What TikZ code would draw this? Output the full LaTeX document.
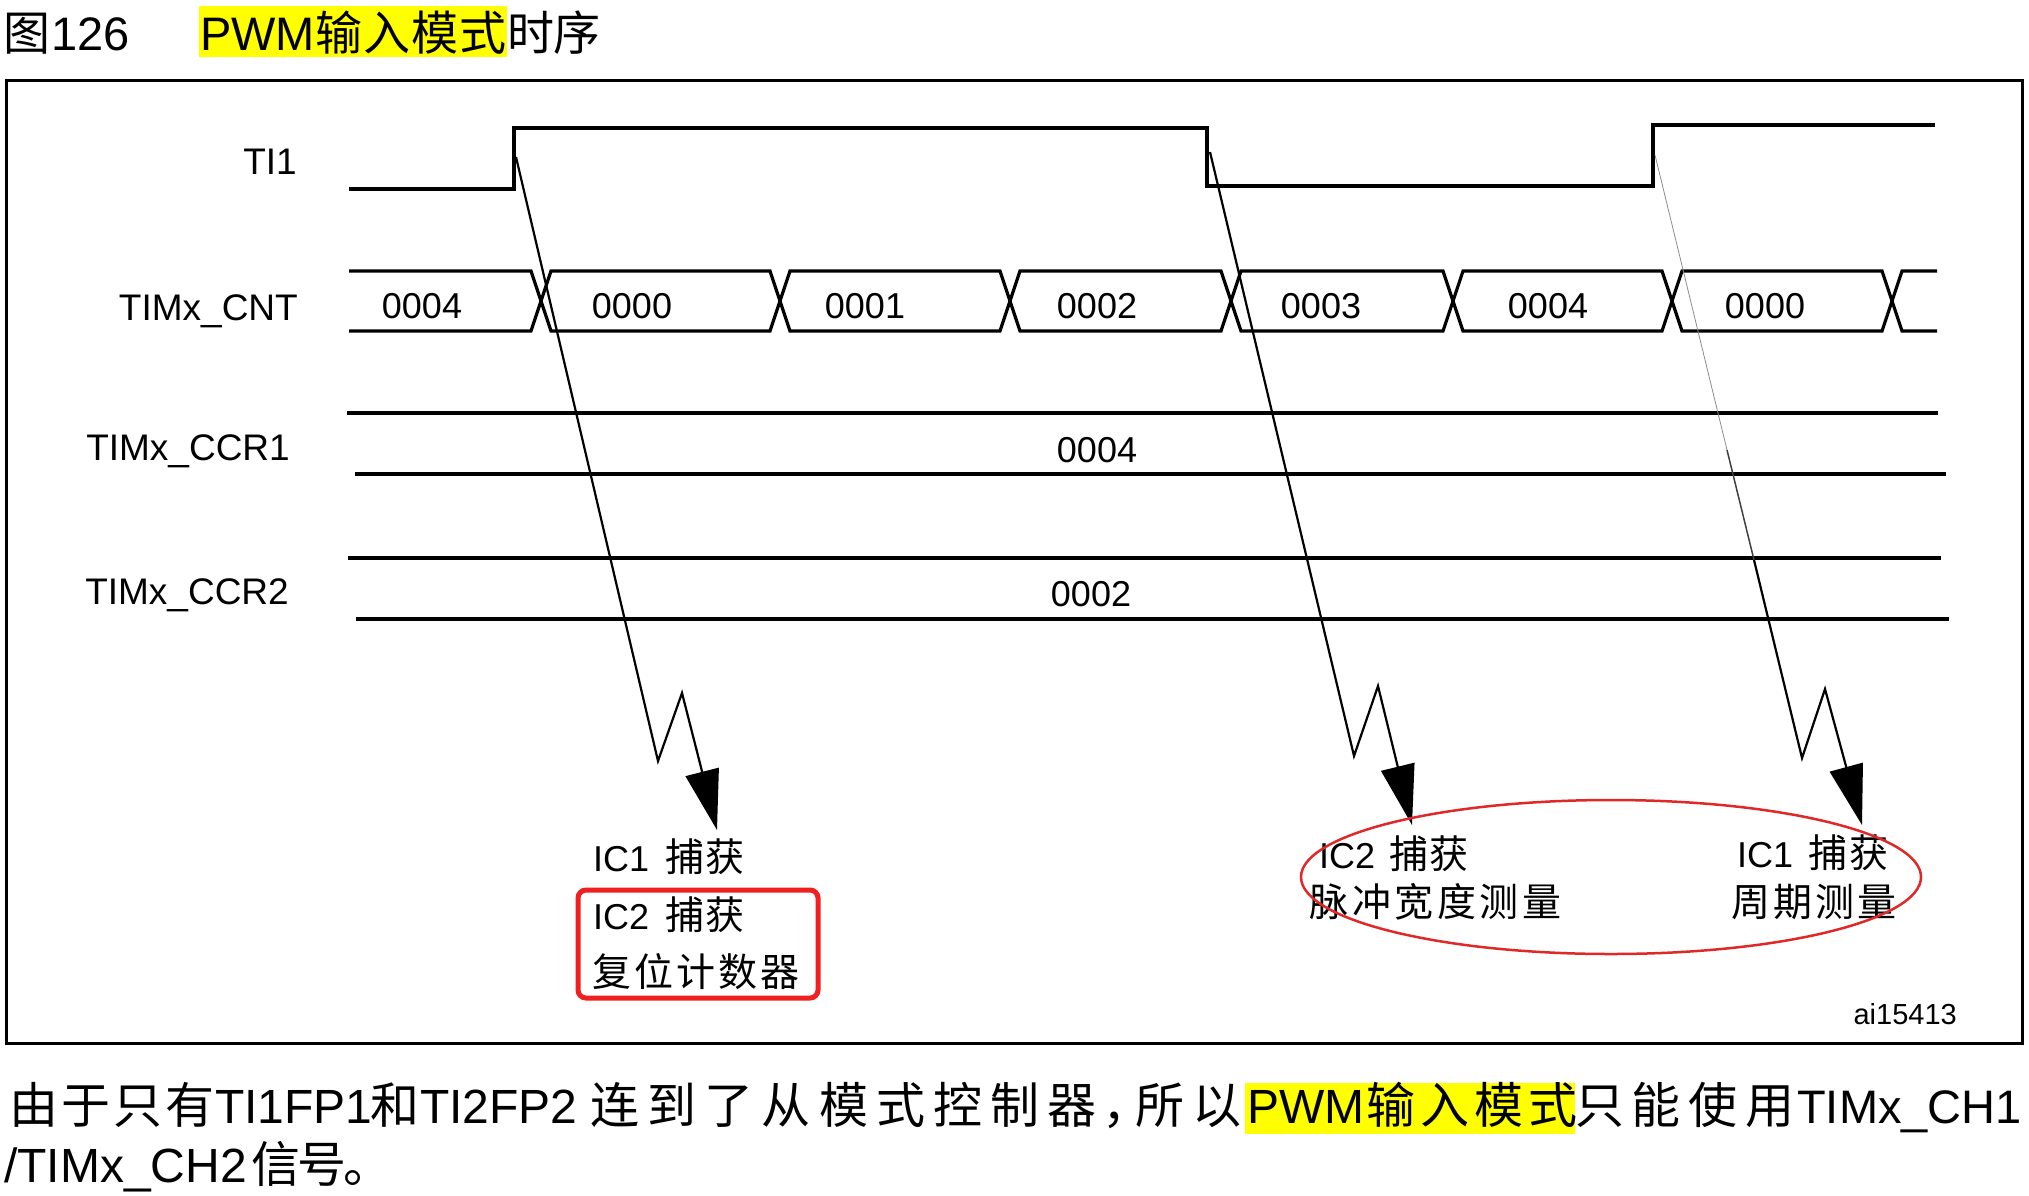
\documentclass[tikz,border=0pt]{standalone}
\usepackage{fontspec}
\setmainfont{Liberation Sans}
\newfontfamily\cjk{Noto Sans CJK SC}
\usetikzlibrary{arrows.meta}
\definecolor{hl}{RGB}{255,255,0}
\definecolor{boxred}{RGB}{240,32,32}
\definecolor{ellred}{RGB}{225,40,40}
\newlength\cjkpitch
\makeatletter
\def\cjz#1#2#3{{\fontsize{#1}{#1}\cjk\setlength\cjkpitch{#2}\cjz@loop#3\relax}}
\def\cjz@loop#1{\ifx\relax#1\else\makebox[\cjkpitch][c]{#1}\expandafter\cjz@loop\fi}
\makeatother
\tikzset{
  wave/.style={line width=3.2pt, line join=miter},
  lbl/.style={inner sep=0pt, anchor=base east, font=\fontsize{37pt}{40pt}\selectfont},
  val/.style={inner sep=0pt, anchor=base, font=\fontsize{36pt}{40pt}\selectfont},
  txt/.style={inner sep=0pt, anchor=base west, font=\fontsize{36pt}{40pt}\selectfont},
  body/.style={inner sep=0pt, anchor=base west, font=\fontsize{48pt}{52pt}\selectfont},
  ttl/.style={inner sep=0pt, anchor=base west, font=\fontsize{47pt}{52pt}\selectfont},
  capline/.style={line width=2.2pt, -{Triangle[length=60pt,width=34pt]}},
}
\begin{document}
\begin{tikzpicture}[x=1pt,y=-1pt]
\useasboundingbox (0,0) rectangle (2029,1195);
% ---------- title ----------
\fill[hl] (199,6) rectangle (507,57);
\node[ttl] (t1) at (4,50) {\cjz{47pt}{46pt}{图}};
\node[ttl] (t2) at (51,50) {126};
\node[ttl] (t3) at (200,50) {PWM\cjz{47pt}{48pt}{输入模式}};
\node[ttl] (t4) at (508,50) {\cjz{47pt}{46pt}{时序}};
% ---------- frame ----------
\draw[line width=3pt] (6,80) rectangle (2022,1043);
% ---------- labels ----------
\node[lbl] (lti) at (297,174) {TI1};
\node[lbl] (lcnt) at (298,320) {TIMx\_CNT};
\node[lbl] (lc1) at (290,460) {TIMx\_CCR1};
\node[lbl] (lc2) at (289,604) {TIMx\_CCR2};
% ---------- TI1 ----------
\draw[wave] (349,189) -- (514,189) -- (514,128) -- (1207,128) -- (1207,186)
  -- (1653,186) -- (1653,125) -- (1935,125);
% ---------- CNT bus ----------
\draw[wave] (349,271)--(531,271)--(551,331)--(770,331)--(790,271)--(1000,271)--(1020,331)
  --(1221,331)--(1241,271)--(1443,271)--(1463,331)--(1662,331)--(1682,271)--(1882,271)
  --(1902,331)--(1937,331);
\draw[wave] (349,331)--(531,331)--(551,271)--(770,271)--(790,331)--(1000,331)--(1020,271)
  --(1221,271)--(1241,331)--(1443,331)--(1463,271)--(1662,271)--(1682,331)--(1882,331)
  --(1902,271)--(1937,271);
\node[val] (v1) at (422,318) {0004};
\node[val] (v2) at (632,318) {0000};
\node[val] (v3) at (865,318) {0001};
\node[val] (v4) at (1097,318) {0002};
\node[val] (v5) at (1321,318) {0003};
\node[val] (v6) at (1548,318) {0004};
\node[val] (v7) at (1765,318) {0000};
% ---------- CCR1 / CCR2 ----------
\draw[wave] (347,413) -- (1938,413);
\draw[wave] (355,474) -- (1946,474);
\node[val] (c1v) at (1097,462) {0004};
\draw[wave] (348,558) -- (1941,558);
\draw[wave] (356,619) -- (1949,619);
\node[val] (c2v) at (1091,606) {0002};
% ---------- capture arrows ----------
\coordinate (a1s) at (516,157);
\coordinate (a1b) at (658,761);
\coordinate (a1t) at (682,693);
\coordinate (a1e) at (717,830);
\coordinate (a2s) at (1210,152);
\coordinate (a2b) at (1354,756);
\coordinate (a2t) at (1378,686);
\coordinate (a2e) at (1412,825);
\coordinate (a3s) at (1655,155);
\coordinate (a3m) at (1727,450);
\coordinate (a3n) at (1754,560);
\coordinate (a3b) at (1802,758);
\coordinate (a3t) at (1825,689);
\coordinate (a3e) at (1862,825);
\draw[capline] (a1s) -- (a1b) -- (a1t) -- (a1e);
\draw[capline] (a2s) -- (a2b) -- (a2t) -- (a2e);
\draw[line width=0.8pt, black!45] (a3s) -- (a3m);
\draw[line width=1.5pt, black!75] (a3m) -- (a3n);
\draw[capline] (a3n) -- (a3b) -- (a3t) -- (a3e);
% ---------- captions ----------
\node[txt] (l1) at (593,871) {IC1\hspace{16pt}\cjz{39pt}{40pt}{捕获}};
\node[txt] (l2) at (593,929) {IC2\hspace{16pt}\cjz{39pt}{40pt}{捕获}};
\node[txt] (l3) at (591,986) {\cjz{39pt}{42pt}{复位计数器}};
\draw[boxred, line width=5pt, rounded corners=8pt] (578,890) rectangle (818,998);
\node[txt] (e1) at (1319,868) {IC2\hspace{14pt}\cjz{39pt}{40pt}{捕获}};
\node[txt] (e2) at (1308,916) {\cjz{39pt}{42.5pt}{脉冲宽度测量}};
\node[txt] (e3) at (1737,867) {IC1\hspace{14pt}\cjz{39pt}{41pt}{捕获}};
\node[txt] (e4) at (1730,916) {\cjz{39pt}{42pt}{周期测量}};
\draw[ellred, line width=2.5pt] (1611,877) ellipse [x radius=310, y radius=77];
\node[inner sep=0pt, anchor=base east, font=\fontsize{29pt}{32pt}\selectfont] (ai) at (1957,1024) {ai15413};
% ---------- text below ----------
\fill[hl] (1245,1083) rectangle (1575,1134);
\node[body] (b1) at (8,1123) {\cjz{49pt}{52pt}{由于只有}};
\node[body] (b2) at (215,1123) {TI1FP1};
\node[body] (b3) at (373,1123) {\cjz{49pt}{44pt}{和}};
\node[body] (b4) at (420,1123) {TI2FP2};
\node[body] (b5) at (586,1123) {\cjz{49pt}{57.2pt}{连到了从模式控制器}};
\node[body] (b6) at (1104,1123) {\cjz{49pt}{46pt}{，}};
\node[body] (b7) at (1131,1123) {\cjz{49pt}{57pt}{所以}};
\node[body] (b8) at (1247,1123) {PWM};
\node[body] (b9) at (1364,1123) {\cjz{49pt}{54pt}{输入模式}};
\node[body] (b10) at (1571,1123) {\cjz{49pt}{56.7pt}{只能使用}};
\node[body, font=\fontsize{47pt}{52pt}\selectfont] (b11) at (1797,1123) {TIMx\_CH1};
\node[body] (b12) at (4,1182) {/TIMx\_CH2};
\node[body] (b13) at (253,1182) {\cjz{49pt}{46pt}{信号。}};
\end{tikzpicture}
\end{document}
